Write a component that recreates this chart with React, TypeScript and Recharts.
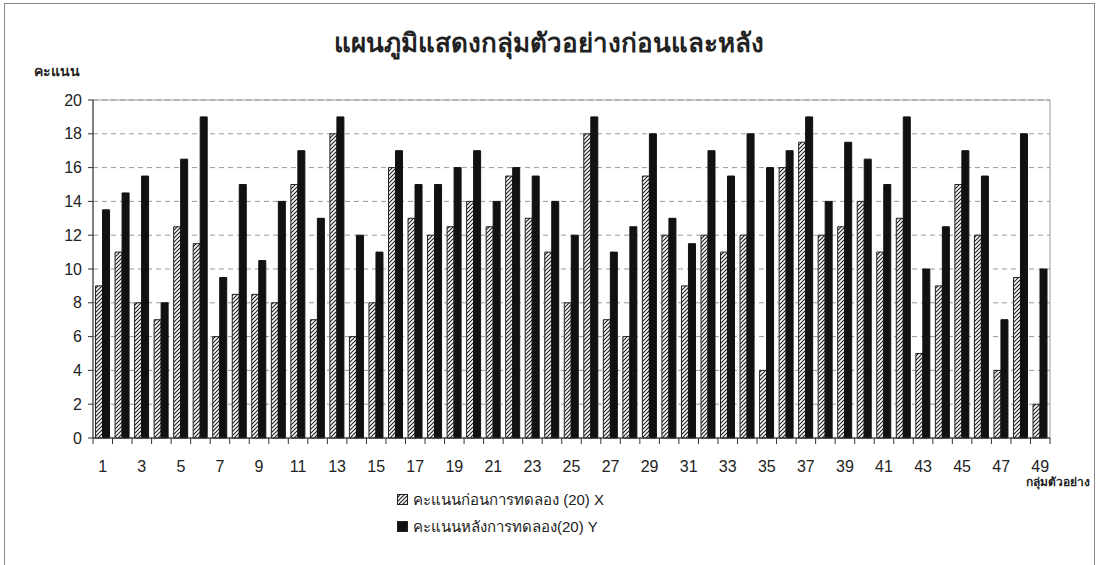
import React from 'react'
import {
  BarChart,
  Bar,
  XAxis,
  YAxis,
  CartesianGrid,
  ReferenceArea,
} from 'recharts'

const groups = Array.from({ length: 49 }, (_, i) => String(i + 1))

const beforeScores = [
  9, 11, 8, 7, 12.5, 11.5, 6, 8.5, 8.5, 8, 15, 7, 18, 6, 8, 16, 13, 12, 12.5, 14,
  12.5, 15.5, 13, 11, 8, 18, 7, 6, 15.5, 12, 9, 12, 11, 12, 4, 16, 17.5, 12, 12.5,
  14, 11, 13, 5, 9, 15, 12, 4, 9.5, 2,
]

const afterScores = [
  13.5, 14.5, 15.5, 8, 16.5, 19, 9.5, 15, 10.5, 14, 17, 13, 19, 12, 11, 17, 15, 15,
  16, 17, 14, 16, 15.5, 14, 12, 19, 11, 12.5, 18, 13, 11.5, 17, 15.5, 18, 16, 17,
  19, 14, 17.5, 16.5, 15, 19, 10, 12.5, 17, 15.5, 7, 18, 10,
]

const yTicks = [0, 2, 4, 6, 8, 10, 12, 14, 16, 18, 20]

const title = 'แผนภูมิแสดงกลุ่มตัวอย่างก่อนและหลัง'
const yLabel = 'คะแนน'
const xLabel = 'กลุ่มตัวอย่าง'
const seriesNames = ['คะแนนก่อนการทดลอง (20) X', 'คะแนนหลังการทดลอง(20) Y']

const data = groups.map((g, i) => ({
  group: g,
  before: beforeScores[i],
  after: afterScores[i],
}))

const W = 1098
const H = 565
const PLOT_W = 957
const BAND = PLOT_W / groups.length
const FONT = '"Liberation Sans", Arial, sans-serif'

// excel-style ticks: marks on category edges, label on every 2nd group
const XTick = (props: any) => {
  const { x, y, payload, index } = props
  const half = BAND / 2
  return (
    <g>
      <line x1={x - half} x2={x - half} y1={y} y2={y + 6} stroke="#333" />
      {index === groups.length - 1 && (
        <line x1={x + half} x2={x + half} y1={y} y2={y + 6} stroke="#333" />
      )}
      {index % 2 === 0 && (
        <text x={x} y={y + 34} textAnchor="middle" fontSize={16} fill="#222" fontFamily={FONT}>
          {payload.value}
        </text>
      )}
    </g>
  )
}

const App: React.FC = () => {
  return (
    <div
      style={{
        position: 'absolute',
        left: 0,
        top: 0,
        width: W,
        height: H,
        background: '#fff',
        fontFamily: FONT,
        overflow: 'hidden',
      }}
    >
      <svg width={0} height={0} style={{ position: 'absolute' }}>
        <defs>
          <pattern id="hatch" width={4} height={4} patternUnits="userSpaceOnUse">
            <rect width={4} height={4} fill="#fff" />
            <path d="M-1,1 l2,-2 M0,4 l4,-4 M3,5 l2,-2" stroke="#222" strokeWidth={1.2} />
          </pattern>
        </defs>
      </svg>

      <div
        style={{
          position: 'absolute',
          left: 4,
          top: 3,
          width: 1089,
          height: 600,
          border: '1px solid #888',
        }}
      />

      <div
        style={{
          position: 'absolute',
          left: 0,
          width: W,
          top: 22,
          textAlign: 'center',
          fontSize: 26,
          fontWeight: 'bold',
          color: '#222',
        }}
      >
        {title}
      </div>
      <div style={{ position: 'absolute', left: 34, top: 60, fontSize: 14, fontWeight: 'bold', color: '#222' }}>
        {yLabel}
      </div>
      <div
        style={{
          position: 'absolute',
          right: 8,
          top: 472,
          fontSize: 12,
          fontWeight: 'bold',
          color: '#222',
        }}
      >
        {xLabel}
      </div>

      <div style={{ position: 'absolute', left: 0, top: 0 }}>
        <BarChart
          width={W}
          height={H}
          data={data}
          margin={{ top: 100, right: 48, left: 33, bottom: 97 }}
          barGap={0}
          barCategoryGap="13%"
        >
          <CartesianGrid vertical={false} stroke="#999" strokeDasharray="5 4" />
          <ReferenceArea y1={0} y2={20} fill="none" stroke="#999" strokeWidth={1} />
          <XAxis
            dataKey="group"
            interval={0}
            tickSize={0}
            tickMargin={0}
            tickLine={false}
            height={30}
            axisLine={{ stroke: '#333' }}
            tick={<XTick />}
          />
          <YAxis
            domain={[0, 20]}
            ticks={yTicks}
            width={60}
            tickSize={5}
            tickMargin={6}
            axisLine={{ stroke: '#333' }}
            tickLine={{ stroke: '#333' }}
            tick={{ fontSize: 16, fill: '#222', fontFamily: FONT }}
          />
          <Bar
            dataKey="before"
            fill="url(#hatch)"
            stroke="#222"
            strokeWidth={1}
            isAnimationActive={false}
          />
          <Bar dataKey="after" fill="#111" stroke="#111" strokeWidth={1} isAnimationActive={false} />
        </BarChart>
      </div>

      <div style={{ position: 'absolute', left: 397, top: 486, fontSize: 15, color: '#222' }}>
        {seriesNames.map((name, i) => (
          <div key={name} style={{ display: 'flex', alignItems: 'center', height: 27 }}>
            <svg width={12} height={12} style={{ marginRight: 4 }}>
              <rect
                x={0.5}
                y={0.5}
                width={10}
                height={10}
                fill={i === 0 ? 'url(#hatch)' : '#111'}
                stroke="#222"
              />
            </svg>
            <span>{name}</span>
          </div>
        ))}
      </div>
    </div>
  )
}

export default App
